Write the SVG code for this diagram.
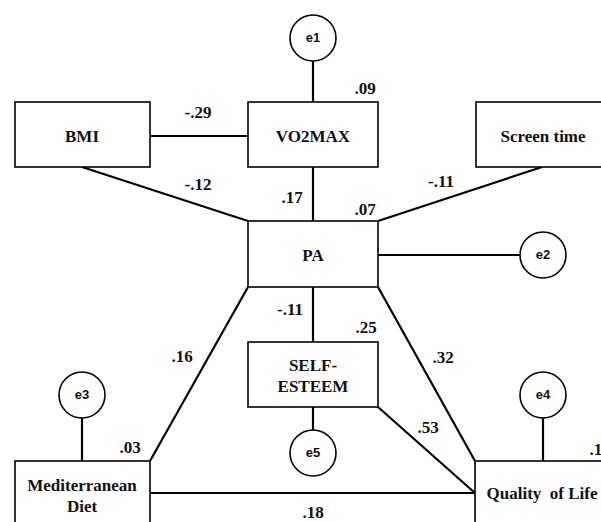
<svg xmlns="http://www.w3.org/2000/svg" width="601" height="522" viewBox="0 0 601 522">
<style>
.box{fill:#fff;stroke:#000;stroke-width:1.6}
.err{fill:#fff;stroke:#000;stroke-width:1.6}
.ln{stroke:#000;stroke-width:2.2;fill:none}
.t{font-family:'Liberation Serif','Times New Roman',Times,serif;font-weight:700;font-size:17px;fill:#111;text-anchor:middle}
.l{font-family:'Liberation Serif','Times New Roman',Times,serif;font-weight:700;font-size:17px;fill:#111;text-anchor:middle}
.e{font-family:'Liberation Sans',Arial,sans-serif;font-weight:700;font-size:13px;fill:#111;text-anchor:middle}
</style>
<rect width="601" height="522" fill="#fff"/>
<g id="connectors">
<line class="ln" x1="150" y1="136" x2="248" y2="136"/>
<line class="ln" x1="313" y1="61" x2="313" y2="102"/>
<line class="ln" x1="82" y1="167" x2="248" y2="221"/>
<line class="ln" x1="313" y1="167" x2="313" y2="221"/>
<line class="ln" x1="542" y1="167" x2="378" y2="221"/>
<line class="ln" x1="378" y1="255" x2="520" y2="255"/>
<line class="ln" x1="313" y1="287" x2="313" y2="342"/>
<line class="ln" x1="313" y1="407" x2="313" y2="430"/>
<line class="ln" x1="248" y1="287" x2="150" y2="461"/>
<line class="ln" x1="82" y1="418" x2="82" y2="461"/>
<line class="ln" x1="378" y1="287" x2="475" y2="461"/>
<line class="ln" x1="378" y1="407" x2="475" y2="493"/>
<line class="ln" x1="150" y1="493" x2="475" y2="493"/>
<line class="ln" x1="543" y1="418" x2="543" y2="461"/>
</g>
<g id="labels">
<text class="l" x="198" y="118">-.29</text>
<text class="l" x="365" y="94">.09</text>
<text class="l" x="198" y="190">-.12</text>
<text class="l" x="292" y="203">.17</text>
<text class="l" x="441" y="187">-.11</text>
<text class="l" x="365" y="215">.07</text>
<text class="l" x="290" y="315">-.11</text>
<text class="l" x="366" y="333">.25</text>
<text class="l" x="182" y="362">.16</text>
<text class="l" x="443" y="363">.32</text>
<text class="l" x="428" y="433">.53</text>
<text class="l" x="130" y="453">.03</text>
<text class="l" x="313" y="518">.18</text>
<text class="l" x="600" y="455">.16</text>
</g>
<g id="e1"><circle class="err" cx="313" cy="38" r="23"/><text class="e" x="313" y="42">e1</text></g>
<g id="e2"><circle class="err" cx="543" cy="255" r="23"/><text class="e" x="543" y="259">e2</text></g>
<g id="e3"><circle class="err" cx="82" cy="395" r="23"/><text class="e" x="82" y="399">e3</text></g>
<g id="e4"><circle class="err" cx="543" cy="395" r="23"/><text class="e" x="543" y="399">e4</text></g>
<g id="e5"><circle class="err" cx="313" cy="453" r="23"/><text class="e" x="313" y="457">e5</text></g>
<g id="BMI"><rect class="box" x="15" y="102" width="135" height="65"/><text class="t" x="82" y="142">BMI</text></g>
<g id="VO2MAX"><rect class="box" x="248" y="102" width="130" height="65"/><text class="t" x="313" y="142">VO2MAX</text></g>
<g id="ScreenTime"><rect class="box" x="476" y="102" width="140" height="65"/><text class="t" x="543" y="142">Screen time</text></g>
<g id="PA"><rect class="box" x="248" y="221" width="130" height="66"/><text class="t" x="313" y="261">PA</text></g>
<g id="SelfEsteem"><rect class="box" x="248" y="342" width="130" height="65"/><text class="t" x="313" y="371">SELF-</text><text class="t" x="313" y="392">ESTEEM</text></g>
<g id="MedDiet"><rect class="box" x="15" y="461" width="135" height="80"/><text class="t" x="82" y="491">Mediterranean</text><text class="t" x="82" y="512">Diet</text></g>
<g id="QoL"><rect class="box" x="475" y="461" width="140" height="80"/><text class="t" x="542" y="499" xml:space="preserve">Quality  of Life</text></g>
</svg>
